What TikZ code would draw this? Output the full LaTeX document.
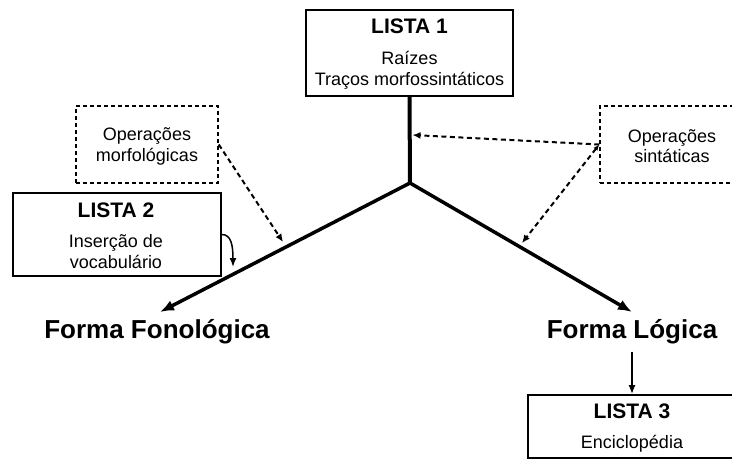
\documentclass[tikz,border=0pt]{standalone}
\usepackage{fontspec}
\setmainfont{Liberation Sans}
\usetikzlibrary{arrows.meta}

\begin{document}
\begin{tikzpicture}[x=1pt,y=-1pt,
    listbox/.style={draw,line width=1.8pt,inner sep=0pt},
    opbox/.style={draw,line width=1.5pt,dash pattern=on 4pt off 3pt,inner sep=0pt},
    titulo/.style={font=\bfseries\fontsize{21}{25}\selectfont,anchor=base,inner sep=0pt},
    texto/.style={font=\fontsize{18}{22}\selectfont,anchor=base,inner sep=0pt},
    forma/.style={font=\bfseries\fontsize{26}{30}\selectfont,anchor=base,inner sep=0pt},
    ramo/.style={line width=3.5pt,-{Latex[length=14pt,width=11pt]}},
    tracejada/.style={line width=2pt,dash pattern=on 5pt off 3.5pt,-{Latex[length=8pt,width=7pt]}},
    seta/.style={line width=1.5pt,-{Latex[length=9pt,width=7pt]}}]
    \useasboundingbox (0,0) rectangle (732,459);

    % caixas
    \node[listbox,minimum width=207pt,minimum height=86pt] (lista1) at (409.5,53) {};
    \node[listbox,minimum width=208pt,minimum height=83pt] (lista2) at (117,234.5) {};
    \node[listbox,minimum width=216pt,minimum height=63pt] (lista3) at (636,426.5) {};
    \node[opbox,minimum width=142pt,minimum height=77pt] (opmorf) at (147,144.5) {};
    \node[opbox,minimum width=144pt,minimum height=77pt] (opsint) at (672,144.5) {};

    % textos
    \node[titulo] (t1) at (409.5,33) {LISTA 1};
    \node[texto] (raizes) at (409.5,64) {Raízes};
    \node[texto] (tracos) at (409.5,85) {Traços morfossintáticos};
    \node[titulo] (t2) at (116,217) {LISTA 2};
    \node[texto] (insercao) at (116,247) {Inserção de};
    \node[texto] (vocab) at (116,268) {vocabulário};
    \node[titulo] (t3) at (632,418) {LISTA 3};
    \node[texto] (encicl) at (632,448) {Enciclopédia};
    \node[texto] (morf1) at (147,140) {Operações};
    \node[texto] (morf2) at (147,161) {morfológicas};
    \node[texto] (sint1) at (672,142) {Operações};
    \node[texto] (sint2) at (672,162) {sintáticas};
    \node[forma] (ff) at (157,338) {Forma Fonológica};
    \node[forma] (fl) at (632,338) {Forma Lógica};

    % pontos
    \coordinate (apex) at (410,183);
    \coordinate (ffTip) at (160,312);
    \coordinate (flTip) at (632,312);
    \coordinate (noTronco) at (412.5,135);
    \coordinate (noRamoFL) at (522,243);
    \coordinate (noRamoFF) at (283,242);
    \coordinate (noRamoIns) at (233,267);

    % arvore
    \draw[line width=4pt] (lista1.south) -- (apex);
    \draw[ramo] (apex) -- (ffTip);
    \draw[ramo] (apex) -- (flTip);

    % operacoes
    \draw[tracejada] (opsint.west) -- (noTronco);
    \draw[tracejada,{Latex[length=6pt,width=5pt]}-{Latex[length=8pt,width=7pt]}] (opsint.west) -- (noRamoFL);
    \draw[tracejada] (opmorf.east) -- (noRamoFF);
    \draw[seta] (lista2.east) .. controls (231,234.5) and (233,245) .. (noRamoIns);
    \draw[seta,shorten <=8pt] (fl.south) -- (fl.south |- lista3.north);
\end{tikzpicture}
\end{document}
